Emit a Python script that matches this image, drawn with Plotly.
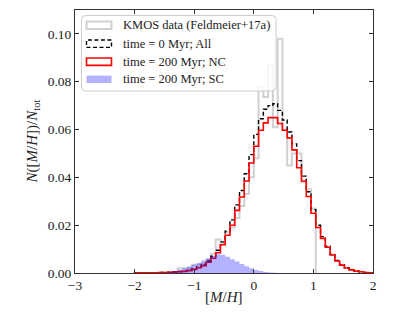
import numpy as np
import plotly.graph_objects as go

# ---------------- data (histograms, N([M/H])/N_tot per bin) ----------------
bin_start = -2.0
bin_width = 0.08
n_bins = 50

kmos_data = [0, 0, 0, 0, 0, 0, 0, 0, 0,
             0.0020, 0.0020, 0.0020, 0.0035, 0.0035, 0.0040, 0.0055, 0.0080, 0.0140, 0.0125,
             0.0170, 0.0190, 0.0230, 0.0280, 0.0330, 0.0400, 0.0480, 0.0778, 0.0736, 0.0868,
             0.0610, 0.0980, 0.0600, 0.0450, 0.0500, 0.0500, 0.0380, 0.0350, 0.0270,
             0, 0, 0, 0, 0, 0, 0, 0, 0, 0, 0, 0]

t0_all = [0.0001, 0.0001, 0.0001, 0.0001, 0.0001, 0.0002, 0.0002, 0.0003, 0.0004, 0.0006, 0.0008, 0.0012,
          0.0017, 0.0025, 0.0035, 0.0050, 0.0070, 0.0095, 0.0130, 0.0175, 0.0222, 0.0285, 0.0345, 0.0415, 0.0495,
          0.0580, 0.0645, 0.0685, 0.0700, 0.0708, 0.0680, 0.0640, 0.0590, 0.0540, 0.0470, 0.0405, 0.0340, 0.0265,
          0.0200, 0.0152, 0.0112, 0.0078, 0.0052, 0.0035, 0.0022, 0.0014, 0.0009, 0.0005, 0.0002, 0.0001]

t200_nc = [0.0001, 0.0001, 0.0001, 0.0001, 0.0001, 0.0002, 0.0002, 0.0003, 0.0004, 0.0005, 0.0007, 0.0010,
           0.0015, 0.0022, 0.0031, 0.0045, 0.0062, 0.0085, 0.0118, 0.0158, 0.0200, 0.0262, 0.0318, 0.0385, 0.0460,
           0.0530, 0.0597, 0.0628, 0.0650, 0.0650, 0.0625, 0.0597, 0.0565, 0.0515, 0.0440, 0.0385, 0.0320, 0.0250,
           0.0190, 0.0145, 0.0108, 0.0075, 0.0050, 0.0033, 0.0021, 0.0013, 0.0008, 0.0005, 0.0002, 0.0001]

t200_sc = [0, 0, 0, 0, 0,
           0.0001, 0.0002, 0.0004, 0.0008, 0.0014, 0.0020, 0.0027, 0.0034, 0.0042, 0.0052, 0.0062, 0.0071,
           0.0078, 0.0076, 0.0068, 0.0058, 0.0048, 0.0038, 0.0028, 0.0020, 0.0013, 0.0008, 0.0004, 0.0002, 0.0001,
           0, 0, 0, 0, 0, 0, 0, 0, 0, 0, 0, 0, 0, 0, 0, 0, 0, 0, 0, 0]

labels = ["KMOS data (Feldmeier+17a)", "time = 0 Myr; All",
          "time = 200 Myr; NC", "time = 200 Myr; SC"]

x_title = "[<i>M</i>/<i>H</i>]"
y_title = "<i>N</i>([<i>M</i>/<i>H</i>])/<i>N</i><sub>tot</sub>"

x_ticks = [-3, -2, -1, 0, 1, 2]
y_ticks = [0.00, 0.02, 0.04, 0.06, 0.08, 0.10]

# ---------------- helpers ----------------
edges = bin_start + bin_width * np.arange(n_bins + 1)


def step_xy(vals, trim=False):
    vals = list(vals)
    lo, hi = 0, len(vals)
    if trim:
        nz = [i for i, v in enumerate(vals) if v > 0]
        lo, hi = nz[0], nz[-1] + 1
    e = edges[lo:hi + 1]
    v = vals[lo:hi]
    xs = [e[0]] + list(e[:-1]) + [e[-1]]
    ys = [0] + v + [0]
    return xs, ys


fig = go.Figure()

xs, ys = step_xy(kmos_data, trim=True)
fig.add_trace(go.Scatter(x=xs, y=ys, mode="lines", line=dict(shape="hv", color="#d0d0d0", width=2),
                         name=labels[0], showlegend=False))
xs, ys = step_xy(t0_all)
fig.add_trace(go.Scatter(x=xs, y=ys, mode="lines", line=dict(shape="hv", color="black", width=1.4, dash="4px,2.5px"),
                         name=labels[1], showlegend=False))
xs, ys = step_xy(t200_nc)
fig.add_trace(go.Scatter(x=xs, y=ys, mode="lines", line=dict(shape="hv", color="red", width=1.6),
                         name=labels[2], showlegend=False))
xs, ys = step_xy(t200_sc, trim=True)
fig.add_trace(go.Scatter(x=xs, y=ys, mode="none", line=dict(shape="hv"),
                         fill="toself", fillcolor="rgba(0,0,255,0.3)",
                         name=labels[3], showlegend=False))

# ---------------- hand-made legend (matplotlib style) ----------------
W, H = 415, 312
ml, mr, mt, mb = 75, 42, 10, 39
pw, ph = W - ml - mr, H - mt - mb


def px_x(p):
    return (p - ml) / pw


def px_y(p):
    return (H - mb - p) / ph


bx0, bx1 = px_x(81.5), px_x(276)
by1, by0 = px_y(15.5), px_y(91)
rx, ry = 4 / pw, 4 / ph
path = (f"M{bx0+rx},{by0} L{bx1-rx},{by0} Q{bx1},{by0} {bx1},{by0+ry} "
        f"L{bx1},{by1-ry} Q{bx1},{by1} {bx1-rx},{by1} L{bx0+rx},{by1} "
        f"Q{bx0},{by1} {bx0},{by1-ry} L{bx0},{by0+ry} Q{bx0},{by0} {bx0+rx},{by0} Z")
shapes = [dict(type="path", xref="paper", yref="paper", path=path,
               fillcolor="rgba(255,255,255,0.8)", line=dict(color="#cccccc", width=1), layer="above")]

row_y = [25.3, 43.7, 61.7, 79.3]
patch_styles = [
    dict(line=dict(color="#d0d0d0", width=2), fillcolor="rgba(0,0,0,0)"),
    dict(line=dict(color="black", width=1.4, dash="4px,2.5px"), fillcolor="rgba(0,0,0,0)"),
    dict(line=dict(color="red", width=1.6), fillcolor="rgba(0,0,0,0)"),
    dict(line=dict(color="rgba(0,0,255,0)", width=0), fillcolor="rgba(0,0,255,0.3)"),
]
annotations = []
for ry_, st, lab in zip(row_y, patch_styles, labels):
    shapes.append(dict(type="rect", xref="paper", yref="paper",
                       x0=px_x(86.5), x1=px_x(111.5), y0=px_y(ry_ + 3.7), y1=px_y(ry_ - 3.7),
                       layer="above", **st))
    annotations.append(dict(xref="paper", yref="paper", x=px_x(121), y=px_y(ry_),
                            xanchor="left", yanchor="middle", text=lab, showarrow=False,
                            font=dict(family="Liberation Serif", size=12.5, color="#222")))

title_font = dict(family="Liberation Serif", size=15, color="#222")
annotations.append(dict(xref="paper", yref="paper", x=0.5, y=px_y(297), xanchor="center", yanchor="middle",
                        text=x_title, showarrow=False, font=title_font))
annotations.append(dict(xref="paper", yref="paper", x=px_x(32), y=0.5, xanchor="center", yanchor="middle",
                        text=y_title, textangle=-90, showarrow=False, font=title_font))

axis_common = dict(showline=True, linecolor="#333", linewidth=1, mirror="allticks",
                   ticks="inside", ticklen=4, tickwidth=1, tickcolor="#333",
                   showgrid=False, zeroline=False, automargin=False,
                   tickfont=dict(family="Liberation Serif", size=13.5, color="#222"))

fig.update_layout(
    width=W, height=H,
    margin=dict(l=ml, r=mr, t=mt, b=mb, pad=0, autoexpand=False),
    paper_bgcolor="white", plot_bgcolor="white",
    showlegend=False,
    shapes=shapes, annotations=annotations,
    xaxis=dict(range=[-3, 2], tickvals=x_ticks, ticktext=[str(v).replace("-", "\u2212") for v in x_ticks],
               **axis_common),
    yaxis=dict(range=[0, 0.11], tickvals=y_ticks, ticktext=[f"{v:.2f}" for v in y_ticks],
               **axis_common),
)

fig.write_html("out.html", config={"displayModeBar": False, "staticPlot": True},
               post_script="document.body.style.margin='0';document.body.style.padding='0';")
